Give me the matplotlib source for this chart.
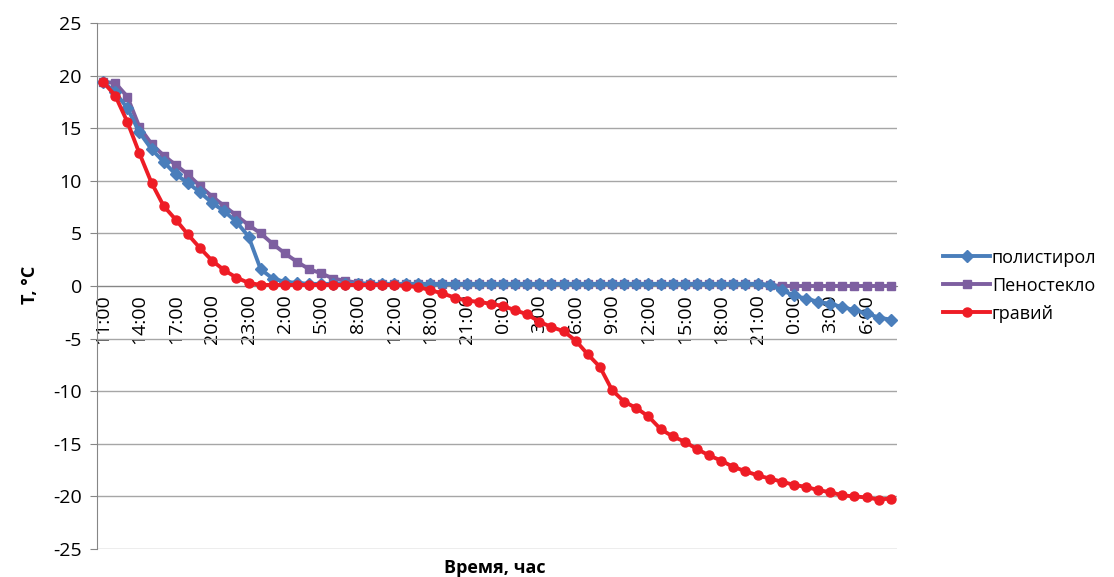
import matplotlib
matplotlib.use("Agg")
import matplotlib.pyplot as plt
import numpy as np

plt.rcParams.update({
    "font.family": ["Open Sans", "DejaVu Sans"],
    "font.size": 13,
    "axes.unicode_minus": False,
})

# tick labels (one every 3rd measurement)
time_labels = ["11:00", "14:00", "17:00", "20:00", "23:00", "2:00", "5:00",
               "8:00", "12:00", "18:00", "21:00", "0:00", "3:00", "6:00",
               "9:00", "12:00", "15:00", "18:00", "21:00", "0:00", "3:00",
               "6:00"]

# полистирол
polystyrene = [19.4, 18.4, 16.9, 14.6, 13.0, 11.8, 10.6, 9.8, 8.9, 7.9, 7.1,
               6.1, 4.7, 1.6, 0.7, 0.4, 0.3, 0.2, 0.2, 0.2, 0.2, 0.2,
               0.2, 0.2, 0.2, 0.2, 0.2, 0.2, 0.2, 0.2, 0.2, 0.2, 0.2, 0.2,
               0.2, 0.2, 0.2, 0.2, 0.2, 0.2, 0.2, 0.2, 0.2, 0.2, 0.2, 0.2,
               0.2, 0.2, 0.2, 0.2, 0.2, 0.2, 0.2, 0.2, 0.2, 0.1, -0.4, -0.9,
               -1.2, -1.5, -1.7, -2.0, -2.3, -2.6, -3.0, -3.2]

# Пеностекло
foam_glass = [19.4, 19.3, 18.0, 15.1, 13.5, 12.4, 11.5, 10.6, 9.5, 8.5, 7.6,
              6.7, 5.8, 5.0, 4.0, 3.1, 2.3, 1.6, 1.2, 0.7, 0.5, 0.3,
              0.2, 0.2, 0.2, 0.2, 0.2, 0.2, 0.2, 0.2, 0.2, 0.2, 0.2, 0.2,
              0.2, 0.2, 0.2, 0.2, 0.2, 0.2, 0.2, 0.2, 0.2, 0.2, 0.2, 0.2,
              0.2, 0.2, 0.2, 0.2, 0.2, 0.2, 0.2, 0.2, 0.2, 0.1, 0.0, 0.0,
              0.0, 0.0, 0.0, 0.0, 0.0, 0.0, 0.0, 0.0]

# гравий
gravel = [19.4, 18.1, 15.6, 12.6, 9.8, 7.6, 6.3, 4.9, 3.6, 2.4, 1.5,
          0.8, 0.3, 0.1, 0.1, 0.1, 0.1, 0.1, 0.1, 0.1, 0.1, 0.1,
          0.1, 0.1, 0.1, 0.0, -0.1, -0.4, -0.7, -1.1, -1.4, -1.5, -1.7, -1.9,
          -2.3, -2.7, -3.4, -3.9, -4.3, -5.2, -6.5, -7.7, -9.9, -11.0, -11.6, -12.4,
          -13.6, -14.3, -14.8, -15.5, -16.1, -16.6, -17.2, -17.6, -18.0, -18.3, -18.6, -18.9,
          -19.1, -19.4, -19.6, -19.9, -20.0, -20.1, -20.3, -20.2]

x = np.arange(len(gravel))

fig = plt.figure(figsize=(11.14, 5.77), dpi=100)
ax = fig.add_axes([0.0871, 0.0485, 0.7180, 0.9117])

# x axis crosses at 0 (set before tick labels, it resets ticks)
ax.spines["bottom"].set_position(("data", 0))

ax.plot(x, polystyrene, color="#4A7EBB", lw=2.8, marker="D", ms=6.5,
        label="полистирол", zorder=4)
ax.plot(x, foam_glass, color="#7D5FA0", lw=2.8, marker="s", ms=6,
        label="Пеностекло", zorder=3)
ax.plot(x, gravel, color="#EE1C25", lw=2.8, marker="o", ms=6.5,
        label="гравий", zorder=5)

ax.set_xlim(-0.5, len(x) - 0.5)
ax.set_ylim(-25, 25)
ax.set_yticks(np.arange(-25, 26, 5))

ax.set_xticks(x[::3])
ax.set_xticklabels(time_labels, rotation=90, va="top", ha="center")

ax.grid(axis="y", color="#A6A6A6", lw=1)
ax.set_axisbelow(True)
for side in ["top", "right"]:
    ax.spines[side].set_visible(False)
ax.spines["left"].set_color("#868686")
ax.spines["bottom"].set_color("#868686")
ax.tick_params(axis="y", length=5, color="#868686", pad=6, labelsize=14)
ax.tick_params(axis="x", length=0, pad=6, labelsize=14)

fig.text(0.027, 0.506, "T, °C", rotation=90, ha="center", va="center",
         fontweight="bold", fontsize=13)
fig.text(0.444, 0.016, "Время, час", ha="center", va="center",
         fontweight="bold", fontsize=13)

fig.legend(loc="center left", bbox_to_anchor=(0.832, 0.505), frameon=False,
           handlelength=2.6, handletextpad=0.1, labelspacing=0.55,
           fontsize=13)

fig.savefig("out.png", dpi=100)
